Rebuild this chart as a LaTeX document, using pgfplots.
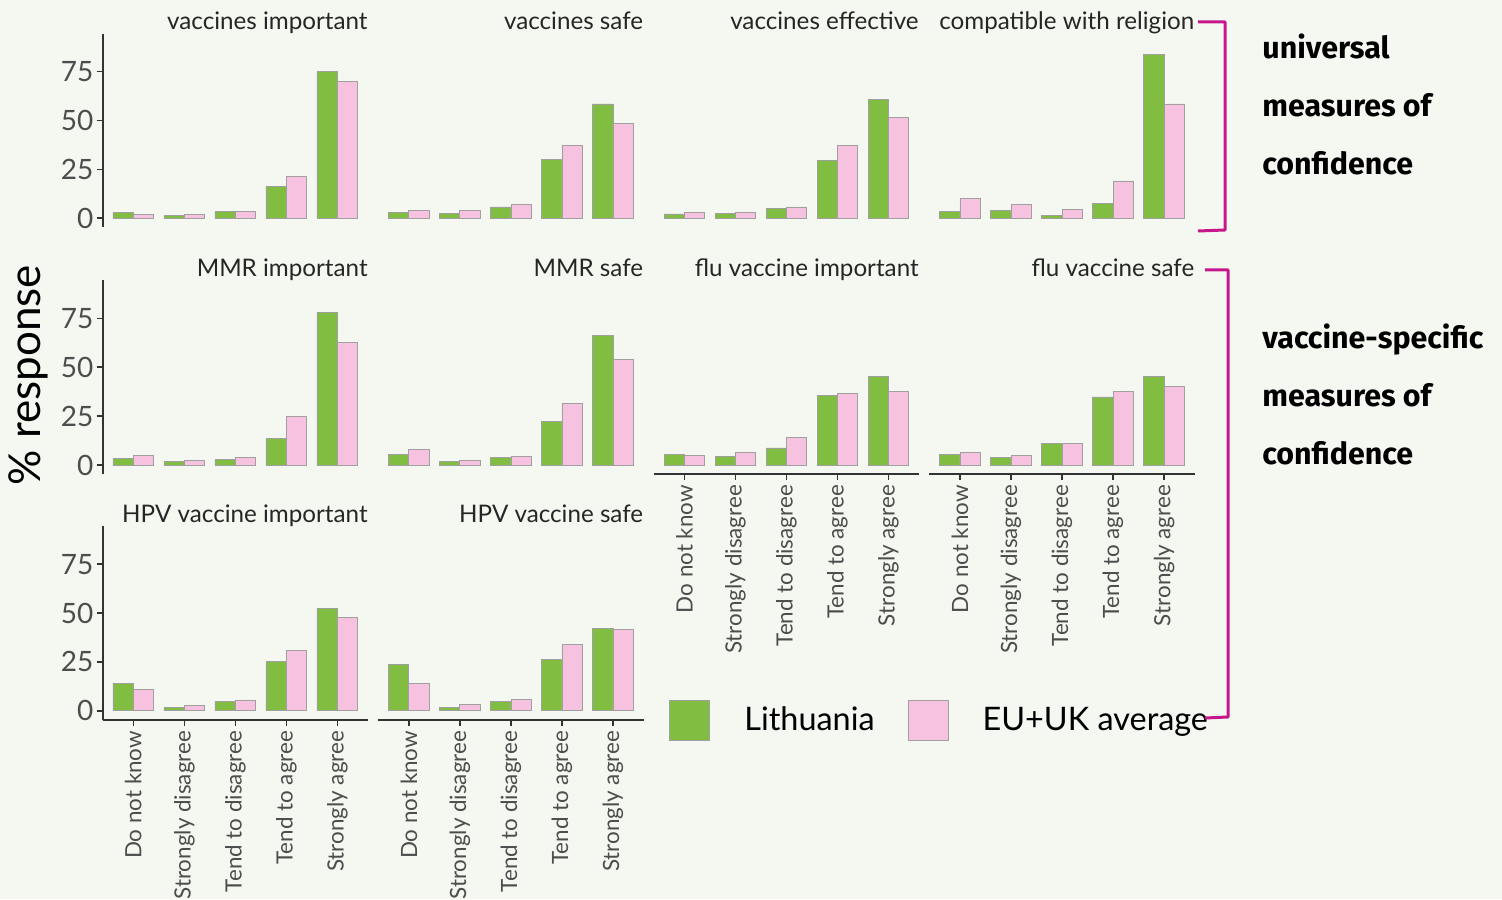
\documentclass[border=0pt]{standalone}
\usepackage{fontspec}
\setmainfont{Lato}
\newfontfamily\rfont{Fira Sans}
\usepackage{pgfplots}
\usepackage{pgfplotstable}
\pgfplotsset{compat=1.18}
\definecolor{bg}{HTML}{F4F8F0}
\definecolor{ltgreen}{HTML}{80BD41}
\definecolor{eupink}{HTML}{F6C2E0}
\definecolor{barborder}{HTML}{A0A0A0}
\definecolor{axiscol}{HTML}{333333}
\definecolor{tickcol}{HTML}{4D4D4D}
\definecolor{titlecol}{HTML}{262626}
\definecolor{brk}{HTML}{C8178C}
\newcommand\fs[1]{\fontsize{#1}{#1}\selectfont}

\pgfplotstableread{
x  viL  viE  vsL  vsE  veL  veE  crL  crE  miL  miE  msL  msE  fiL  fiE  fsL  fsE  hiL  hiE  hsL  hsE
1  2.9  2.0  2.9  3.8  2.2  2.9  3.4  10.1 3.2  4.9  5.6  7.8  5.3  4.8  5.6  6.6  14.1 10.9 23.5 14.0
2  1.5  2.0  2.6  3.8  2.6  2.9  3.8  7.3  2.0  2.5  1.7  2.5  4.6  6.4  3.7  4.8  1.7  2.9  1.5  3.2
3  3.7  3.7  5.8  7.2  4.9  5.8  1.5  4.6  2.9  3.9  3.7  4.6  8.7  13.9 10.9 10.9 4.9  5.5  4.6  5.8
4  16.5 21.5 30.3 37.2 29.7 37.2 7.7  19.1 13.4 24.8 22.2 31.7 35.8 36.5 34.8 37.7 25.0 30.8 26.1 33.9
5  75.0 70.2 58.5 48.6 61.0 51.5 84.0 58.5 78.0 62.8 66.3 53.8 45.5 37.7 45.5 40.2 52.1 47.7 42.3 41.4
}\data

\pgfplotsset{
  lt/.style={ybar, bar width=0.4, bar shift=-0.2, fill=ltgreen, draw=barborder, line width=0.4pt},
  eu/.style={ybar, bar width=0.4, bar shift=0.2, fill=eupink, draw=barborder, line width=0.4pt},
  panel/.style={
    scale only axis, width=132.65pt, height=96.75pt, anchor=south west,
    xmin=0.4, xmax=5.6, ymin=-4.5, ymax=94.5,
    ytick={0,25,50,75}, xtick={1,2,3,4,5},
    xticklabels={Do not know, Strongly disagree, Tend to disagree, Tend to agree, Strongly agree},
    tick align=outside, major tick length=3pt,
    /pgf/number format/assume math mode=true,
    tick style={draw=axiscol, line width=0.8pt},
    title style={anchor=base east, at={(1,1)}, yshift=-4.2pt, inner sep=0pt, font=\fs{12.1}, text=titlecol},
    yticklabel style={font=\fs{14}, text=tickcol, inner sep=1.5pt},
    xticklabel style={rotate=90, anchor=east, font=\fs{11.2}, text=tickcol, inner sep=2.5pt},
    clip=false,
  },
  yleft/.style={axis y line*=left, y axis line style={-, draw=axiscol, line width=1pt}},
  xbot/.style={axis x line*=bottom, x axis line style={-, draw=axiscol, line width=1pt}},
  nox/.style={hide x axis},
  noy/.style={hide y axis},
}
\newcommand\bars[2]{%
  \addplot[lt] table[x=x,y=#1]{\data};
  \addplot[eu] table[x=x,y=#2]{\data};
}

\begin{document}
\begin{tikzpicture}
\useasboundingbox (0,0) rectangle (751pt,449.5pt);
\fill[bg] (0,0) rectangle (751pt,449.5pt);

% row 1
\begin{axis}[panel, yleft, nox, at={(51.35pt,335.95pt)}, title={vaccines important}]
\bars{viL}{viE}
\end{axis}
\begin{axis}[panel, nox, noy, at={(189.125pt,335.95pt)}, title={vaccines safe}]
\bars{vsL}{vsE}
\end{axis}
\begin{axis}[panel, nox, noy, at={(326.9pt,335.95pt)}, title={vaccines effective}]
\bars{veL}{veE}
\end{axis}
\begin{axis}[panel, nox, noy, at={(464.675pt,335.95pt)}, title={compatible with religion}]
\bars{crL}{crE}
\end{axis}

% row 2
\begin{axis}[panel, yleft, nox, at={(51.35pt,212.6pt)}, title={MMR important},
  ylabel={\% response},
  ylabel style={at={(axis description cs:-0.2816,0.51)}, rotate=0, anchor=center, font=\fs{22}, text=black}]
\bars{miL}{miE}
\end{axis}
\begin{axis}[panel, nox, noy, at={(189.125pt,212.6pt)}, title={MMR safe}]
\bars{msL}{msE}
\end{axis}
\begin{axis}[panel, xbot, noy, at={(326.9pt,212.6pt)}, title={flu vaccine important}]
\bars{fiL}{fiE}
\end{axis}
\begin{axis}[panel, xbot, noy, at={(464.675pt,212.6pt)}, title={flu vaccine safe}]
\bars{fsL}{fsE}
\end{axis}

% row 3
\begin{axis}[panel, yleft, xbot, at={(51.35pt,89.75pt)}, title={HPV vaccine important}]
\bars{hiL}{hiE}
\end{axis}
\begin{axis}[panel, xbot, noy, at={(189.125pt,89.75pt)}, title={HPV vaccine safe},
  legend style={at={(axis description cs:1.0959,-0.005)}, anchor=west, draw=none, fill=none,
    inner sep=0pt, legend columns=2, font=\fs{16.2},
    /tikz/every odd column/.append style={column sep=15pt},
    /tikz/every even column/.append style={column sep=14.5pt}},
  legend image code/.code={\draw[#1, draw=barborder, line width=0.5pt] (0pt,-10pt) rectangle (20pt,10pt);}]
\addplot[lt] table[x=x,y=hsL]{\data};
\addlegendentry{Lithuania}
\addplot[eu] table[x=x,y=hsE]{\data};
\addlegendentry{EU+UK average}
\end{axis}

% brackets and group labels (pixel coordinates, y up)
\begin{scope}[x=0.5pt, y=0.5pt]
\draw[brk, line width=1.5pt, line join=round] (1198,877) -- (1225,877) -- (1225,669) -- (1198,668);
\draw[brk, line width=1.5pt, line join=round] (1205,629) -- (1228,629) -- (1228,182) -- (1205,181);
\begin{scope}[every node/.style={anchor=base west, inner sep=0pt, font=\rfont\bfseries\fs{15.2}}]
\node at (1262,840) {universal};
\node at (1262,782) {measures of};
\node at (1262,724) {confidence};
\node at (1262,550) {vaccine-specific};
\node at (1262,492) {measures of};
\node at (1262,434) {confidence};
\end{scope}
\end{scope}
\end{tikzpicture}
\end{document}
